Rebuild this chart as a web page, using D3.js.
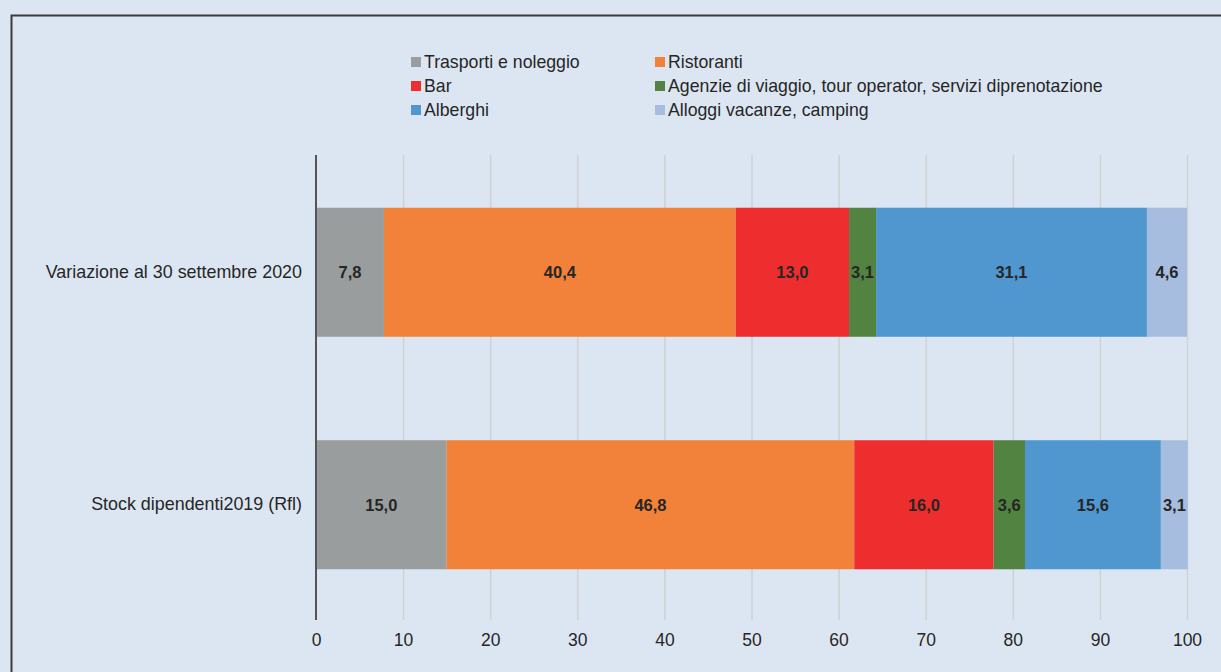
<!DOCTYPE html>
<html><head><meta charset="utf-8">
<script src="https://cdn.jsdelivr.net/npm/d3@7"></script>
<style>
html,body{margin:0;padding:0;background:#dce6f2;}
svg{display:block;font-family:"Liberation Sans",Arial,sans-serif;}
</style></head>
<body><svg id="c" width="1221" height="672"></svg>
<script>
const categories = ["Variazione al 30 settembre 2020", "Stock dipendenti2019 (Rfl)"];
const seriesNames = ["Trasporti e noleggio","Ristoranti","Bar","Agenzie di viaggio, tour operator, servizi diprenotazione","Alberghi","Alloggi vacanze, camping"];
const seriesColors = ["#9a9d9e","#f2823a","#ee2e2e","#538340","#5097d0","#a6bde0"];
const valuesVariazione = [7.8, 40.4, 13.0, 3.1, 31.1, 4.6];
const valuesStock = [15.0, 46.8, 16.0, 3.6, 15.6, 3.1];
const xTicks = [0,10,20,30,40,50,60,70,80,90,100];

const rows = [valuesVariazione, valuesStock];
const svg = d3.select("#c");
svg.append("rect").attr("width",1221).attr("height",672).attr("fill","#dce6f2");
// frame
svg.append("path").attr("d","M11.5,700 L11.5,15.5 L1240,15.5").attr("fill","none").attr("stroke","#3a3a3a").attr("stroke-width",2);

const x = d3.scaleLinear().domain([0,100]).range([316,1187]);
const y = d3.scaleBand().domain(categories).range([156,621]).paddingInner(0.445).paddingOuter(0.2225);

// gridlines
svg.append("g").selectAll("line").data(xTicks.filter(d=>d>0)).join("line")
  .attr("x1",d=>x(d)+0.5).attr("x2",d=>x(d)+0.5).attr("y1",155).attr("y2",620)
  .attr("stroke","#cfd1d3").attr("stroke-width",1.5);

// stacked data
const stackData = categories.map((c,i)=>{
  const o={cat:c}; seriesNames.forEach((s,j)=>o[s]=rows[i][j]); return o;});
const stack = d3.stack().keys(seriesNames)(stackData);
const fmt = v => d3.format(".1f")(v).replace(".",",");
const g = svg.append("g");
stack.forEach((layer,j)=>{
  g.selectAll(null).data(layer).join("rect")
    .attr("x",d=>x(d[0])).attr("width",d=>x(d[1])-x(d[0]))
    .attr("y",d=>y(d.data.cat)).attr("height",y.bandwidth())
    .attr("fill",seriesColors[j]);
});
stack.forEach((layer,j)=>{
  g.selectAll(null).data(layer).join("text")
    .attr("x",d=>(x(d[0])+x(d[1]))/2).attr("y",d=>y(d.data.cat)+y.bandwidth()/2)
    .attr("dy","0.35em").attr("text-anchor","middle")
    .attr("font-size",16.5).attr("font-weight","bold").attr("fill","#262626")
    .text(d=>fmt(d[1]-d[0]));
});

// axis line at 0
svg.append("line").attr("x1",x(0)).attr("x2",x(0)).attr("y1",155).attr("y2",620)
  .attr("stroke","#555").attr("stroke-width",2);

// x tick labels
const xa = d3.axisBottom(x).tickValues(xTicks).tickSize(0).tickPadding(0).tickFormat(d3.format("d"));
const xg = svg.append("g").attr("transform","translate(0,634)").call(xa);
xg.select(".domain").remove();
xg.selectAll("text").attr("font-size",17.5).attr("fill","#262626").attr("font-family","Liberation Sans, Arial, sans-serif");

// y labels
const ya = d3.axisLeft(y).tickSize(0).tickPadding(0);
const yg = svg.append("g").attr("transform","translate(302,0)").call(ya);
yg.select(".domain").remove();
yg.selectAll("text").attr("font-size",17.9).attr("fill","#262626").attr("font-family","Liberation Sans, Arial, sans-serif");

// legend
const legPos = [[411,62],[655,62],[411,86],[655,86],[411,110],[655,110]];
const lg = svg.append("g");
seriesNames.forEach((s,j)=>{
  const [lx,ly]=legPos[j];
  lg.append("rect").attr("x",lx).attr("y",ly-5).attr("width",10).attr("height",10).attr("fill",seriesColors[j]);
  lg.append("text").attr("x",lx+13).attr("y",ly).attr("dy","0.35em").attr("font-size",17.7).attr("fill","#262626").text(s);
});
</script></body></html>
